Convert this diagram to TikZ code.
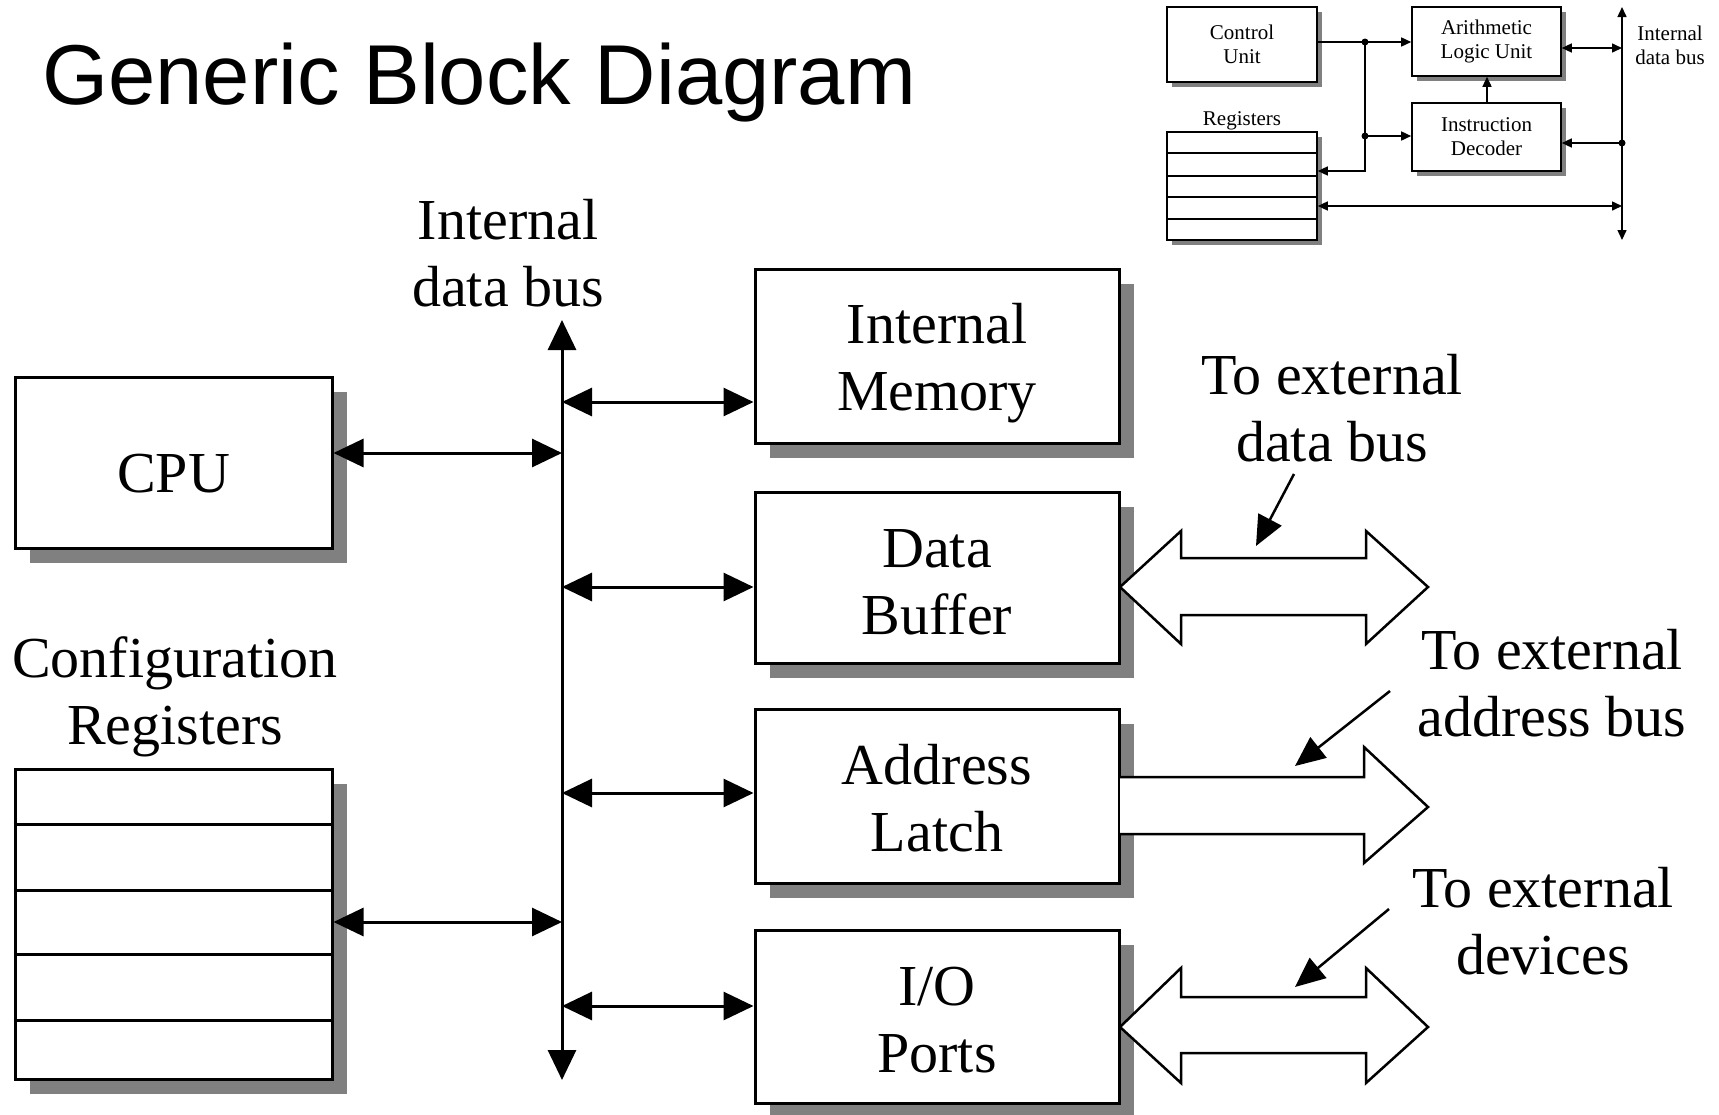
\documentclass[tikz,border=0pt]{standalone}
\usepackage{fontspec}
\setmainfont{Liberation Serif}
\newfontfamily\titlefont{Liberation Sans}
\usetikzlibrary{arrows.meta,shadows}
\definecolor{shade}{RGB}{128,128,128}
\begin{document}
\begin{tikzpicture}[x=1pt,y=-1pt,
  box/.style={draw, line width=3pt, fill=white, inner sep=0pt,
    drop shadow={shadow xshift=15pt, shadow yshift=-15pt, fill=shade, opacity=1}},
  sbox/.style={draw, line width=1.6pt, fill=white, inner sep=0pt, align=center,
    font=\fontsize{21}{24}\selectfont,
    drop shadow={shadow xshift=5pt, shadow yshift=-5pt, fill=shade, opacity=1}},
  bigtext/.style={font=\fontsize{58}{67}\selectfont, align=center, inner sep=0pt},
  smalltext/.style={font=\fontsize{21}{24}\selectfont, align=center, inner sep=0pt},
  bigtip/.tip={Triangle[length=30pt,width=28pt]},
  smalltip/.tip={Triangle[length=10pt,width=9pt]},
  link/.style={line width=3pt, bigtip-bigtip},
  slink/.style={line width=1.5pt},
  pointer/.style={line width=2.5pt, -{Triangle[length=30pt,width=26pt]}},
  hollow/.style={line width=2.5pt, line join=miter},
  dot/.style={circle, fill=black, inner sep=0pt, minimum size=7pt},
]
\useasboundingbox (0,0) rectangle (1719,1114);

% title
\node[anchor=base west, inner sep=0pt, font=\titlefont\fontsize{85}{98}\selectfont]
  (title) at (42,104) {Generic Block Diagram};

% ---------- main diagram ----------
\node[box, minimum width=317pt, minimum height=171pt] (cpu) at (173.5,462.5) {};
\node[box, minimum width=364pt, minimum height=174pt] (mem) at (937,356) {};
\node[box, minimum width=364pt, minimum height=171pt] (buf) at (937,577.5) {};
\node[box, minimum width=364pt, minimum height=174pt] (lat) at (937,796) {};
\node[box, minimum width=364pt, minimum height=173pt] (io)  at (937,1016.5) {};

\node[bigtext] (cputext) at ([yshift=-11pt]cpu.center) {CPU};
\node[bigtext] (memtext) at ([yshift=-7pt]mem.center) {Internal\\Memory};
\node[bigtext] (buftext) at ([yshift=-5pt]buf.center) {Data\\Buffer};
\node[bigtext] (lattext) at ([yshift=-2pt]lat.center) {Address\\Latch};
\node[bigtext] (iotext)  at ([yshift=-4pt]io.center) {I/O\\Ports};

% configuration registers
\node[box, minimum width=317pt, minimum height=310pt] (cfg) at (173.5,924) {};
\foreach \r in {824,890,954,1020}
  \draw[line width=3pt] (cfg.west |- 0,\r) -- (cfg.east |- 0,\r);
\node[bigtext] (cfglabel) at (175,697) {Configuration\\Registers};

% internal data bus
\coordinate (bustop) at (562,320);
\coordinate (busbot) at (562,1080);
\draw[line width=3pt, bigtip-bigtip] (bustop) -- (busbot);
\node[bigtext] (buslabel) at (508,253) {Internal\\data bus};

\coordinate (bcpu) at (562,453);
\coordinate (bcfg) at (562,922);
\coordinate (bmem) at (562,402);
\coordinate (bbuf) at (562,587);
\coordinate (blat) at (562,793);
\coordinate (bio)  at (562,1006);
\draw[link] (cpu.east |- bcpu) -- (bcpu);
\draw[link] (cfg.east |- bcfg) -- (bcfg);
\draw[link] (bmem) -- (bmem -| mem.west);
\draw[link] (bbuf) -- (bbuf -| buf.west);
\draw[link] (blat) -- (blat -| lat.west);
\draw[link] (bio)  -- (bio -| io.west);

% external data bus (two-way)
\filldraw[hollow, fill=white] (1120,587) -- (1181,531) -- (1181,558) -- (1366,558) -- (1366,531)
  -- (1428,587) -- (1366,644) -- (1366,615) -- (1181,615) -- (1181,644) -- cycle;
% external address bus (one-way)
\fill[white] (1120,777) -- (1364,777) -- (1364,747) -- (1428,807) -- (1364,863) -- (1364,834) -- (1120,834) -- cycle;
\draw[hollow] (1120,777) -- (1364,777) -- (1364,747) -- (1428,807) -- (1364,863) -- (1364,834) -- (1120,834);
% external devices (two-way)
\filldraw[hollow, fill=white] (1120,1027) -- (1181,968) -- (1181,997) -- (1366,997) -- (1366,968)
  -- (1428,1027) -- (1366,1083) -- (1366,1053) -- (1181,1053) -- (1181,1083) -- cycle;

\node[bigtext] (extdata) at (1332,408) {To external\\data bus};
\node[bigtext] (extaddr) at (1552,683) {To external\\address bus};
\node[bigtext] (extdev)  at (1543,921) {To external\\devices};
\coordinate (p1s) at (1294,474); \coordinate (p1e) at (1256,546);
\coordinate (p2s) at (1390,691); \coordinate (p2e) at (1295,766);
\coordinate (p3s) at (1389,909); \coordinate (p3e) at (1295,987);
\draw[pointer] (p1s) -- (p1e);
\draw[pointer] (p2s) -- (p2e);
\draw[pointer] (p3s) -- (p3e);

% ---------- CPU detail (inset) ----------
\node[sbox, minimum width=150pt, minimum height=75pt] (cu)  at (1242,44.5) {Control\\Unit};
\node[sbox, minimum width=149pt, minimum height=69pt] (alu) at (1486.5,41.5) {Arithmetic\\Logic Unit};
\node[sbox, minimum width=149pt, minimum height=68pt] (dec) at (1486.5,137) {Instruction\\Decoder};
\node[sbox, minimum width=150pt, minimum height=108pt] (reg) at (1242,186) {};
\foreach \r in {153,176,197,219}
  \draw[line width=1.4pt] (reg.west |- 0,\r) -- (reg.east |- 0,\r);
\node[smalltext] (reglabel) at (1242,121) {Registers};

\coordinate (sbtop) at (1622,7);
\coordinate (sbbot) at (1622,240);
\draw[slink, smalltip-smalltip] (sbtop) -- (sbbot);
\node[smalltext] (sbuslabel) at (1670,45) {Internal\\data bus};

\node[dot] (j1) at (1365,42) {};
\node[dot] (j2) at (1365,136) {};
\node[dot] (j3) at (1622,143) {};
\coordinate (rg1) at (1365,171);
\draw[slink, -smalltip] (cu.east |- j1) -- (j1.center) -- (j1 -| alu.west);
\draw[slink, -smalltip] (j1.center) -- (rg1) -- (rg1 -| reg.east);
\draw[slink, -smalltip] (j2.center) -- (j2 -| dec.west);
\draw[slink, smalltip-smalltip] (alu.east |- 0,48) -- (1622,48);
\draw[slink, -smalltip] (j3.center) -- (j3 -| dec.east);
\draw[slink, -smalltip] (dec.north -| 1487,0) -- (alu.south -| 1487,0);
\draw[slink, smalltip-smalltip] (reg.east |- 0,206) -- (1622,206);
\end{tikzpicture}
\end{document}
